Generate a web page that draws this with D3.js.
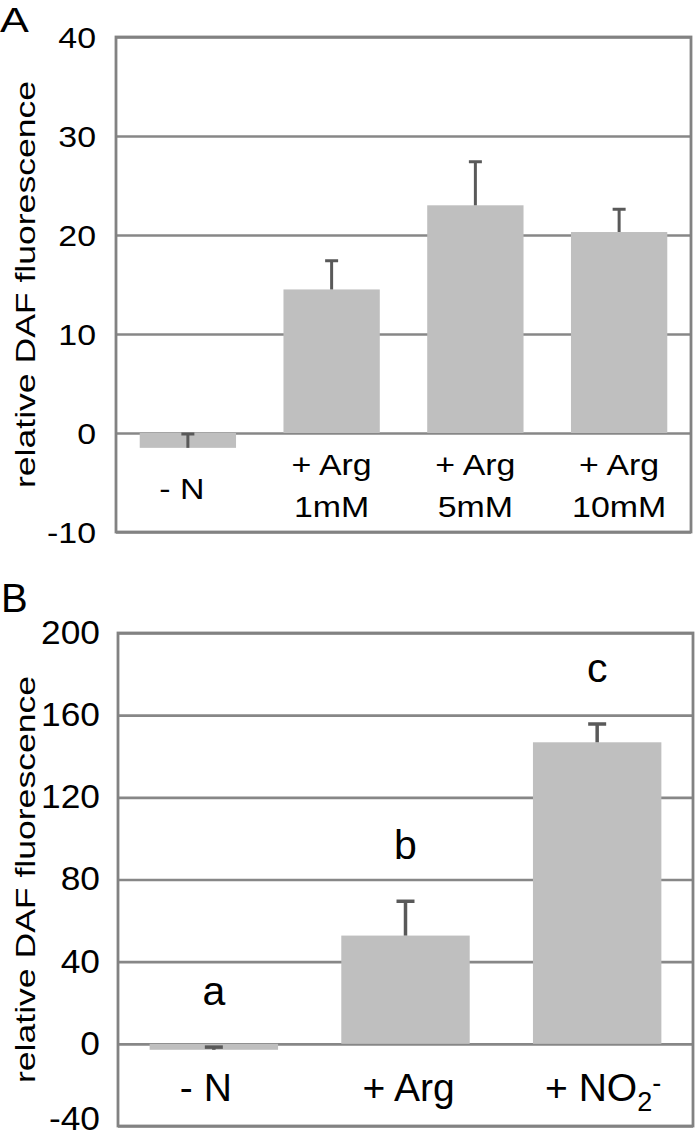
<!DOCTYPE html>
<html>
<head>
<meta charset="utf-8">
<script src="https://cdn.jsdelivr.net/npm/d3@7"></script>
<style>
  html, body { margin: 0; padding: 0; background: #fff; }
  svg { display: block; }
  text { font-family: "Liberation Sans", Arial, sans-serif; fill: #000; }
</style>
</head>
<body>
<script>
// ---------- data ----------
const categoriesA = [["- N"], ["+ Arg", "1mM"], ["+ Arg", "5mM"], ["+ Arg", "10mM"]];
const valuesA = [-1.5, 14.5, 23.0, 20.3];
const errorsA = [1.4, 2.9, 4.4, 2.3];
const ticksA = [-10, 0, 10, 20, 30, 40];

const categoriesB = ["- N", "+ Arg", "+ NO2-"];
const valuesB = [-2.9, 52.7, 146.8];
const errorsB = [1.3, 16.7, 8.9];
const lettersB = ["a", "b", "c"];
const ticksB = [-40, 0, 40, 80, 120, 160, 200];

const yTitle = "relative DAF fluorescence";

// ---------- drawing ----------
const W = 697, H = 1138;
const svg = d3.select("body").append("svg").attr("width", W).attr("height", H);

function txt(g, x, y, s, size, sx, anchor, rot) {
  const t = g.append("text")
    .attr("transform", `translate(${x},${y})` + (rot ? ` rotate(${rot})` : "") + ` scale(${sx},1)`)
    .attr("text-anchor", anchor || "middle")
    .style("font-size", size + "px")
    .text(s);
  return t;
}

function panel(opt) {
  const g = svg.append("g");
  const x = d3.scaleBand().domain(opt.cats.map((d, i) => i)).range([opt.x0, opt.x1]).paddingInner(0.33).paddingOuter(0.165);
  const y = d3.scaleLinear().domain(opt.domain).range([opt.y1, opt.y0]);

  // gridlines
  const ax = d3.axisLeft(y).tickValues(opt.ticks).tickSize(-(opt.x1 - opt.x0)).tickFormat("");
  const ga = g.append("g").attr("transform", `translate(${opt.x0},0)`).call(ax);
  ga.select(".domain").remove();
  ga.selectAll(".tick line").attr("stroke", "#878787").attr("stroke-width", 2.6);

  // bars
  g.selectAll("rect.bar").data(opt.vals).enter().append("rect")
    .attr("x", (d, i) => x(i))
    .attr("width", x.bandwidth())
    .attr("y", d => Math.min(y(d), y(0)))
    .attr("height", d => Math.abs(y(d) - y(0)))
    .attr("fill", "#bfbfbf");

  // error bars (plus direction)
  opt.vals.forEach((v, i) => {
    const cx = x(i) + x.bandwidth() / 2;
    const top = y(v + opt.errs[i]);
    g.append("line").attr("x1", cx).attr("x2", cx).attr("y1", y(v)).attr("y2", top)
      .attr("stroke", "#595959").attr("stroke-width", opt.errW);
    g.append("line").attr("x1", cx - opt.cap / 2).attr("x2", cx + opt.cap / 2).attr("y1", top).attr("y2", top)
      .attr("stroke", "#595959").attr("stroke-width", opt.errW);
  });

  // frame
  g.append("rect").attr("x", opt.x0).attr("y", opt.y0)
    .attr("width", opt.x1 - opt.x0).attr("height", opt.y1 - opt.y0)
    .attr("fill", "none").attr("stroke", "#828282").attr("stroke-width", 2.8);

  // tick labels (kept inside the page)
  opt.ticks.forEach(t => {
    const by = Math.min(y(t) + opt.tickSize * opt.tickShift, H - opt.tickSize * 0.23);
    txt(g, opt.tickX, by, String(t), opt.tickSize, opt.tickSx, "end");
  });

  // y title
  txt(g, opt.titleX, (opt.y0 + opt.y1) / 2, yTitle, opt.titleSize, opt.titleSx, "middle", -90);

  // panel letter
  txt(g, opt.letterX, opt.letterY, opt.letter, opt.letterSize, opt.letterSx, "start");

  return {g, x, y};
}

// Panel A
const A = panel({
  cats: categoriesA, vals: valuesA, errs: errorsA, ticks: ticksA, domain: [-10, 40],
  x0: 116, x1: 691, y0: 37, y1: 532,
  errW: 3, cap: 13,
  tickX: 96, tickSize: 30, tickSx: 1.13, tickShift: 0.36,
  titleX: 35, titleSize: 28, titleSx: 1.27,
  letter: "A", letterX: 0, letterY: 32, letterSize: 36, letterSx: 1.2
});
categoriesA.forEach((lines, i) => {
  const cx = A.x(i) + A.x.bandwidth() / 2;
  if (lines.length === 1) {
    txt(A.g, cx - 6, A.y(0) + 66, lines[0], 30, 1.13, "middle");
  } else {
    txt(A.g, cx, A.y(0) + 42, lines[0], 30, 1.13, "middle");
    txt(A.g, cx, A.y(0) + 84, lines[1], 30, 1.13, "middle");
  }
});

// Panel B
const B = panel({
  cats: categoriesB, vals: valuesB, errs: errorsB, ticks: ticksB, domain: [-40, 200],
  x0: 118, x1: 693, y0: 633, y1: 1126,
  errW: 3.5, cap: 18,
  tickX: 100, tickSize: 33, tickSx: 1.07, tickShift: 0.33,
  titleX: 35, titleSize: 28, titleSx: 1.27,
  letter: "B", letterX: 1, letterY: 612, letterSize: 40, letterSx: 1.0
});
categoriesB.forEach((c, i) => {
  const cx = B.x(i) + B.x.bandwidth() / 2;
  const by = B.y(0) + 57;
  if (c === "+ NO2-") {
    const t = B.g.append("text").attr("transform", `translate(${cx + 6},${by})`)
      .attr("text-anchor", "middle").style("font-size", "39px");
    t.append("tspan").text("+ NO");
    t.append("tspan").attr("dy", 10).style("font-size", "27px").text("2");
    t.append("tspan").attr("dy", -19).style("font-size", "27px").text("-");
  } else {
    txt(B.g, cx + (i === 0 ? -8 : 3), by, c, 39, 1.0, "middle");
  }
});
// significance letters above error bars
lettersB.forEach((l, i) => {
  const cx = B.x(i) + B.x.bandwidth() / 2;
  const top = B.y(valuesB[i] + errorsB[i]);
  txt(B.g, cx, top - 42, l, 41, 1.0, "middle");
});
</script>
</body>
</html>
